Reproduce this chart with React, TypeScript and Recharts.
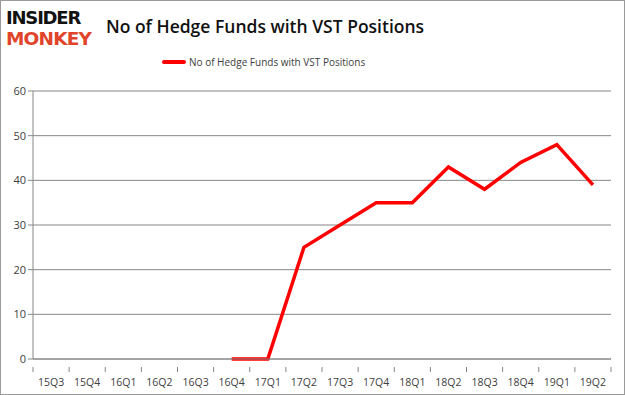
import { LineChart, Line, XAxis, YAxis, CartesianGrid } from 'recharts';

const quarters = ['15Q3', '15Q4', '16Q1', '16Q2', '16Q3', '16Q4', '17Q1', '17Q2', '17Q3', '17Q4', '18Q1', '18Q2', '18Q3', '18Q4', '19Q1', '19Q2'];
const funds: (number | null)[] = [null, null, null, null, null, 0, 0, 25, 30, 35, 35, 43, 38, 44, 48, 39];
const yTicks = [0, 10, 20, 30, 40, 50, 60];
const seriesName = 'No of Hedge Funds with VST Positions';

const data = quarters.map((q, i) => ({ q, funds: funds[i] }));

const W = 625;
const H = 395;
const M = { top: 91, right: 14, bottom: 6, left: 5 };
const Y_W = 28;
const X_H = 30;
const HALF = (W - M.left - M.right - Y_W) / quarters.length / 2;
const font = '"Open Sans", "Liberation Sans", sans-serif';

function XTick(props: any) {
  const { x, y, payload, index } = props;
  const last = index === quarters.length - 1;
  return (
    <g>
      <line x1={x - HALF} x2={x - HALF} y1={y} y2={y + 5} stroke="#868686" />
      {last && <line x1={x + HALF} x2={x + HALF} y1={y} y2={y + 5} stroke="#868686" />}
      <text x={x} y={y + 19} textAnchor="middle" fontSize={10.5} fill="#404040" fontFamily={font}>
        {payload.value}
      </text>
    </g>
  );
}

export default function App() {
  return (
    <div style={{ position: 'fixed', left: 0, top: 0, width: W, height: H, background: '#fff', boxSizing: 'border-box', border: '1px solid #9a9a9a' }}>
      <div style={{ position: 'absolute', left: 5, top: 6, fontFamily: '"DejaVu Sans", sans-serif', fontWeight: 900, lineHeight: '21px' }}>
        <div style={{ fontSize: 18, color: '#111', letterSpacing: -1.2 }}>INSIDER</div>
        <div style={{ fontSize: 18.5, color: '#e0452b', letterSpacing: -0.8 }}>MONKEY</div>
      </div>
      <div style={{ position: 'absolute', left: 105, top: 13, fontFamily: font, fontSize: 17.5, fontWeight: 600, color: '#111' }}>
        {seriesName}
      </div>
      <div style={{ position: 'absolute', left: 161, top: 54, display: 'flex', alignItems: 'center', fontFamily: font, fontSize: 10, color: '#404040' }}>
        <span style={{ display: 'inline-block', width: 24, height: 4, background: '#ff0000', borderRadius: 2, marginRight: 3 }} />
        {seriesName}
      </div>
      <div style={{ position: 'absolute', left: -1, top: -1 }}>
        <LineChart width={W} height={H} data={data} margin={M}>
          <CartesianGrid vertical={false} stroke="#868686" />
          <XAxis dataKey="q" scale="band" height={X_H} stroke="#868686" tickLine={false} tick={<XTick />} interval={0} />
          <YAxis width={Y_W} domain={[0, 60]} ticks={yTicks} stroke="#868686" tickSize={5} tick={{ fontSize: 11, fill: '#404040', fontFamily: font }} />
          <Line dataKey="funds" stroke="#ff0000" strokeWidth={3.5} dot={false} isAnimationActive={false} connectNulls={false} />
        </LineChart>
      </div>
    </div>
  );
}
